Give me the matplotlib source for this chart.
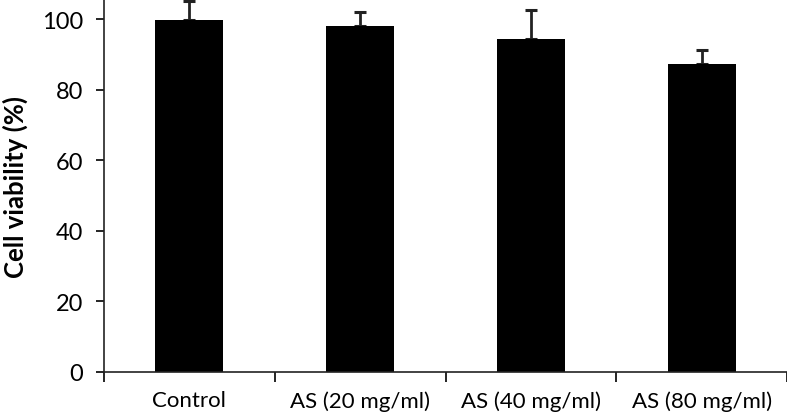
import matplotlib
matplotlib.use("Agg")
import matplotlib.pyplot as plt
import numpy as np

# data
groups = ["Control", "AS (20 mg/ml)", "AS (40 mg/ml)", "AS (80 mg/ml)"]
viability = [99.8, 98.1, 94.3, 87.2]
err_up = [5.4, 3.8, 8.3, 4.0]
y_ticks = [0, 20, 40, 60, 80, 100]

plt.rcParams['font.family'] = ['Lato', 'DejaVu Sans']

fig = plt.figure(figsize=(7.87, 4.14), dpi=100)
ax = fig.add_axes([104 / 787, 41 / 414, 1 - 104 / 787, 1 - 41 / 414])

x = np.arange(len(groups))
ax.bar(x, viability, width=0.397, color="black", zorder=2)
ax.errorbar(x, viability, yerr=[np.zeros(len(err_up)), err_up], fmt="none",
            ecolor="#222222", elinewidth=2, capsize=4.5, capthick=2.2, zorder=1)

ax.set_ylim(0, 105.7)
ax.set_xlim(-0.5, 3.415)
ax.set_yticks(y_ticks)
ax.tick_params(axis="y", direction="out", length=6, width=1.2, labelsize=17, pad=9)

# category boundaries carry the ticks, names sit in between
ax.set_xticks(np.arange(len(groups) + 1) - 0.5)
ax.set_xticklabels([])
ax.set_xticks(x, minor=True)
ax.set_xticklabels(groups, minor=True, fontsize=16)
ax.tick_params(axis="x", which="major", direction="out", length=7, width=1.2)
ax.tick_params(axis="x", which="minor", length=0, pad=13)

ax.set_ylabel("Cell viability (%)", fontsize=18.5, fontweight="bold", labelpad=10)

for s in ["top", "right"]:
    ax.spines[s].set_visible(False)
for s in ["left", "bottom"]:
    ax.spines[s].set_linewidth(1.2)
    ax.spines[s].set_color("#222222")

fig.savefig("out.png", dpi=100)
